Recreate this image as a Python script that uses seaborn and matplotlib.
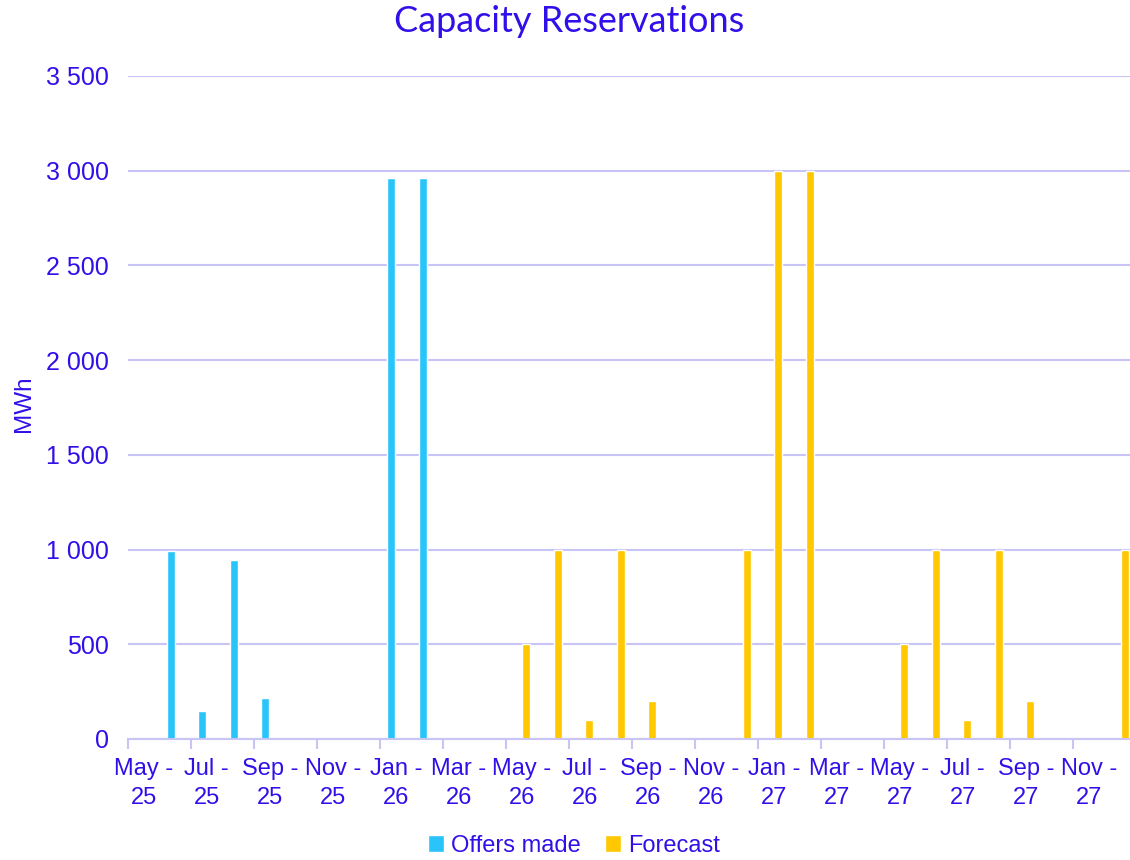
import matplotlib
matplotlib.use("Agg")
import matplotlib.pyplot as plt
import seaborn as sns
import pandas as pd
import numpy as np
from matplotlib.ticker import FuncFormatter, FixedLocator

months = ["May-25", "Jun-25", "Jul-25", "Aug-25", "Sep-25", "Oct-25", "Nov-25", "Dec-25",
          "Jan-26", "Feb-26", "Mar-26", "Apr-26", "May-26", "Jun-26", "Jul-26", "Aug-26",
          "Sep-26", "Oct-26", "Nov-26", "Dec-26", "Jan-27", "Feb-27", "Mar-27", "Apr-27",
          "May-27", "Jun-27", "Jul-27", "Aug-27", "Sep-27", "Oct-27", "Nov-27", "Dec-27"]
offers_made = [0, 990, 150, 945, 215, 0, 0, 0,
               2960, 2960, 0, 0, 0, 0, 0, 0,
               0, 0, 0, 0, 0, 0, 0, 0,
               0, 0, 0, 0, 0, 0, 0, 0]
forecast = [0, 0, 0, 0, 0, 0, 0, 0,
            0, 0, 0, 0, 500, 1000, 100, 1000,
            200, 0, 0, 1000, 3000, 3000, 0, 0,
            500, 1000, 100, 1000, 200, 0, 0, 1000]
tick_labels = ["May -\n25", "Jul -\n25", "Sep -\n25", "Nov -\n25", "Jan -\n26", "Mar -\n26",
               "May -\n26", "Jul -\n26", "Sep -\n26", "Nov -\n26", "Jan -\n27", "Mar -\n27",
               "May -\n27", "Jul -\n27", "Sep -\n27", "Nov -\n27"]
series_names = ["Offers made", "Forecast"]
colors = ["#29C4F9", "#FFC800"]

df = pd.DataFrame({
    "month": months * 2,
    "value": offers_made + forecast,
    "series": [series_names[0]] * len(months) + [series_names[1]] * len(months),
})

sns.set_theme(style="white")
plt.rcParams["font.family"] = ["Liberation Sans", "DejaVu Sans"]
TXT = "#3010E8"
GRID = "#C9C4F6"

fig = plt.figure(figsize=(11.3, 8.6), dpi=100)
W, H = 1130, 860
left, right, top, bottom = 128, 1136, 76, 739
ax = fig.add_axes([left / W, 1 - bottom / H, (right - left) / W, (bottom - top) / H])

sns.barplot(data=df, x="month", y="value", hue="series", order=months,
            hue_order=series_names, palette=colors, width=0.56, gap=0.1,
            saturation=1, ax=ax, legend=True)

ax.set_xlim(-0.5, len(months) - 0.5)
ax.set_ylim(0, 3500)
ax.set_yticks(np.arange(0, 3501, 500))
ax.yaxis.set_major_formatter(FuncFormatter(lambda v, p: f"{int(v):,}".replace(",", " ")))
ax.grid(axis="y", color=GRID, linewidth=1.5)
ax.set_axisbelow(True)

ax.set_xticks(np.arange(0, len(months), 2))
ax.set_xticklabels(tick_labels)
ax.xaxis.set_minor_locator(FixedLocator(np.arange(-0.5, len(months), 2)))
ax.tick_params(axis="x", which="major", length=0, pad=14, labelsize=17, labelcolor=TXT)
ax.tick_params(axis="x", which="minor", length=7, width=1.5, color=GRID, bottom=True)
ax.tick_params(axis="y", length=0, pad=14, labelsize=18, labelcolor=TXT)
for lab in ax.get_xticklabels():
    lab.set_linespacing(1.38)

for s in ["top", "right", "left"]:
    ax.spines[s].set_visible(False)
ax.spines["bottom"].set_color(GRID)
ax.spines["bottom"].set_linewidth(1.5)

ax.set_xlabel("")
ax.set_ylabel("")
fig.text(24 / W, 1 - 404 / H, "MWh", rotation=90, ha="center", va="center",
         fontsize=17.5, color=TXT)

fig.text(569 / W, 1 - 22 / H, "Capacity Reservations", ha="center", va="center",
         fontsize=26, color=TXT, family=["Lato", "DejaVu Sans"])

leg = ax.get_legend()
handles = leg.legend_handles
leg.remove()
fig.legend(handles, series_names, loc="center", bbox_to_anchor=(574 / W, 1 - 846 / H),
           ncol=2, frameon=False, fontsize=17, labelcolor=TXT, handlelength=0.7,
           handleheight=0.7, handletextpad=0.3, columnspacing=1.0)

fig.savefig("out.png", dpi=100)
